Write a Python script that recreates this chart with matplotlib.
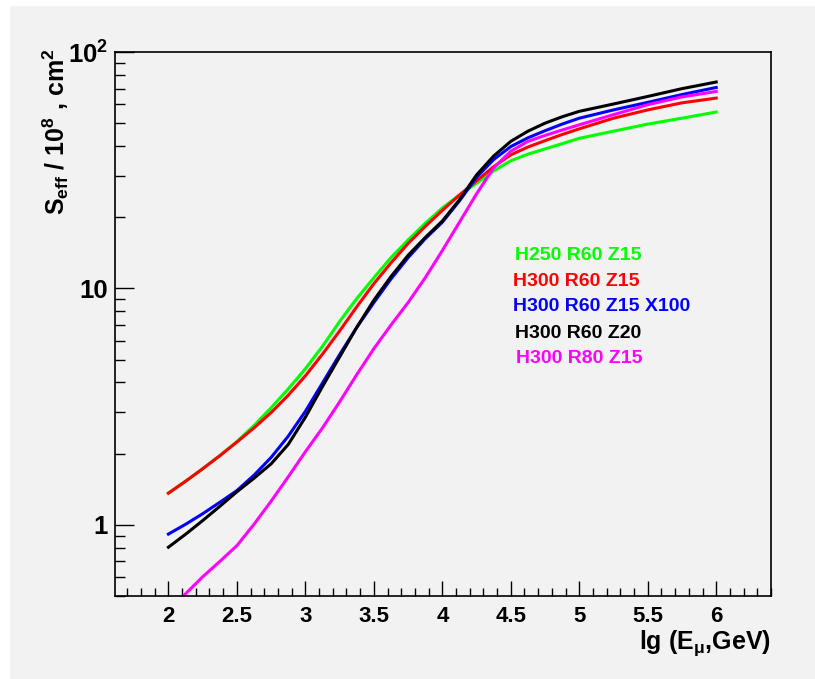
import matplotlib
matplotlib.use("Agg")
import matplotlib.pyplot as plt
from matplotlib.ticker import MultipleLocator, LogLocator, FuncFormatter, NullFormatter
from matplotlib.patches import Rectangle

plt.rcParams['font.family'] = ['Liberation Sans', 'DejaVu Sans']
plt.rcParams['font.weight'] = 'bold'
plt.rcParams['mathtext.fontset'] = 'custom'
plt.rcParams['mathtext.rm'] = 'Liberation Sans:bold'
plt.rcParams['mathtext.it'] = 'Liberation Sans:bold'
plt.rcParams['mathtext.bf'] = 'Liberation Sans:bold'

# lg(E_mu, GeV)
lg_e = [2.0, 2.125, 2.25, 2.375, 2.5, 2.625, 2.75, 2.875, 3.0, 3.125, 3.25, 3.375, 3.5,
        3.625, 3.75, 3.875, 4.0, 4.125, 4.25, 4.375, 4.5, 4.625, 4.75, 4.875, 5.0,
        5.25, 5.5, 5.75, 6.0]

# S_eff / 1e8 cm^2 for each detector configuration
s_h250_r60_z15 = [1.361, 1.528, 1.726, 1.963, 2.249, 2.630, 3.126, 3.758, 4.571, 5.689, 7.244, 9.057, 11.09,
                  13.49, 16.03, 18.84, 21.88, 24.83, 27.86, 31.41, 34.67, 36.98, 38.90, 40.93, 43.15,
                  46.24, 49.55, 52.48, 55.72]
s_h300_r60_z15 = [1.361, 1.528, 1.726, 1.959, 2.239, 2.570, 2.985, 3.532, 4.266, 5.272, 6.607, 8.356, 10.47,
                  12.82, 15.49, 18.28, 21.38, 24.83, 28.51, 32.73, 36.73, 39.63, 42.17, 44.77, 47.32,
                  52.48, 56.89, 60.95, 63.83]
s_h300_r60_z15_x100 = [0.914, 1.005, 1.114, 1.245, 1.396, 1.622, 1.928, 2.371, 3.020, 3.981, 5.248, 6.839, 8.710,
                       10.96, 13.49, 16.22, 19.05, 23.44, 29.51, 35.08, 39.81, 43.35, 46.45, 49.55, 52.48,
                       56.89, 61.24, 66.07, 70.79]
s_h300_r60_z20 = [0.804, 0.912, 1.042, 1.197, 1.380, 1.574, 1.811, 2.188, 2.851, 3.846, 5.129, 6.839, 8.913,
                  11.22, 13.80, 16.41, 19.28, 23.71, 30.20, 36.31, 41.88, 46.24, 50.00, 53.21, 56.10,
                  60.26, 64.86, 69.98, 74.65]
s_h300_r80_z15 = [0.4315, 0.5105, 0.6026, 0.6998, 0.8166, 1.005, 1.259, 1.596, 2.037, 2.570, 3.311, 4.315, 5.559,
                  6.998, 8.710, 11.09, 14.45, 19.05, 25.12, 32.36, 38.02, 41.88, 44.36, 46.77, 49.20,
                  54.33, 59.84, 64.57, 68.08]

labels = ["H250 R60 Z15", "H300 R60 Z15", "H300 R60 Z15 X100", "H300 R60 Z20", "H300 R80 Z15"]
colors = ["#00ff00", "#ff0000", "#0000ff", "#000000", "#ff00ff"]
series = [s_h250_r60_z15, s_h300_r60_z15, s_h300_r60_z15_x100, s_h300_r60_z20, s_h300_r80_z15]
# where the coloured captions sit (data coordinates)
label_x = [4.53, 4.515, 4.515, 4.53, 4.536]
label_y = [13.8, 10.7, 8.37, 6.46, 5.07]

bg = '#f2f2f2'
fig = plt.figure(figsize=(8.15, 6.79), dpi=100, facecolor='white')
fig.patches.append(Rectangle((10 / 815, 0), 1, (679 - 6) / 679, transform=fig.transFigure,
                             facecolor=bg, edgecolor='none', zorder=-10))
ax = fig.add_axes([115 / 815, 83 / 679, (771 - 115) / 815, (596 - 52) / 679])
ax.set_facecolor(bg)

for vals, c in zip(series, colors):
    ax.plot(lg_e, vals, color=c, lw=2.2, solid_joinstyle='round')

for lab, c, xx, yy in zip(labels, colors, label_x, label_y):
    ax.text(xx, yy, lab, color=c, fontsize=14, fontweight='bold', va='center', ha='left')

ax.set_yscale('log')
ax.set_xlim(1.61, 6.4)
ax.set_ylim(0.5, 100)

ax.xaxis.set_major_locator(MultipleLocator(0.5))
ax.xaxis.set_minor_locator(MultipleLocator(0.1))
ax.xaxis.set_major_formatter(FuncFormatter(lambda v, p: '%g' % v))

ax.yaxis.set_major_locator(LogLocator(base=10))
ax.yaxis.set_minor_locator(LogLocator(base=10, subs=range(2, 10)))
ax.yaxis.set_minor_formatter(NullFormatter())


def ylab(v, p):
    if abs(v - 1) < 1e-6:
        return '1'
    if abs(v - 10) < 1e-6:
        return '10'
    if abs(v - 100) < 1e-6:
        return r'10$^\mathrm{2}$'
    return ''


ax.yaxis.set_major_formatter(FuncFormatter(ylab))

ax.tick_params(axis='x', which='major', direction='in', length=11, width=1, pad=7, labelsize=16)
ax.tick_params(axis='x', which='minor', direction='in', length=6, width=1)
ax.tick_params(axis='y', which='major', direction='in', length=14, width=1, pad=5, labelsize=18.5)
ax.tick_params(axis='y', which='minor', direction='in', length=7, width=1)
for lab in ax.get_xticklabels() + ax.get_yticklabels():
    lab.set_fontweight('bold')
for s in ax.spines.values():
    s.set_linewidth(1.2)

fig.text(56 / 815, (679 - 48) / 679, r'S$_\mathrm{eff}$ / 10$^\mathrm{8}$ , cm$^\mathrm{2}$',
         rotation=90, ha='center', va='top', fontsize=18, fontweight='bold')
fig.text(771 / 815, (679 - 649) / 679, r'lg (E$_\mathrm{μ}$,GeV)',
         ha='right', va='baseline', fontsize=18, fontweight='bold')

fig.savefig('out.png', dpi=100, facecolor=fig.get_facecolor())
